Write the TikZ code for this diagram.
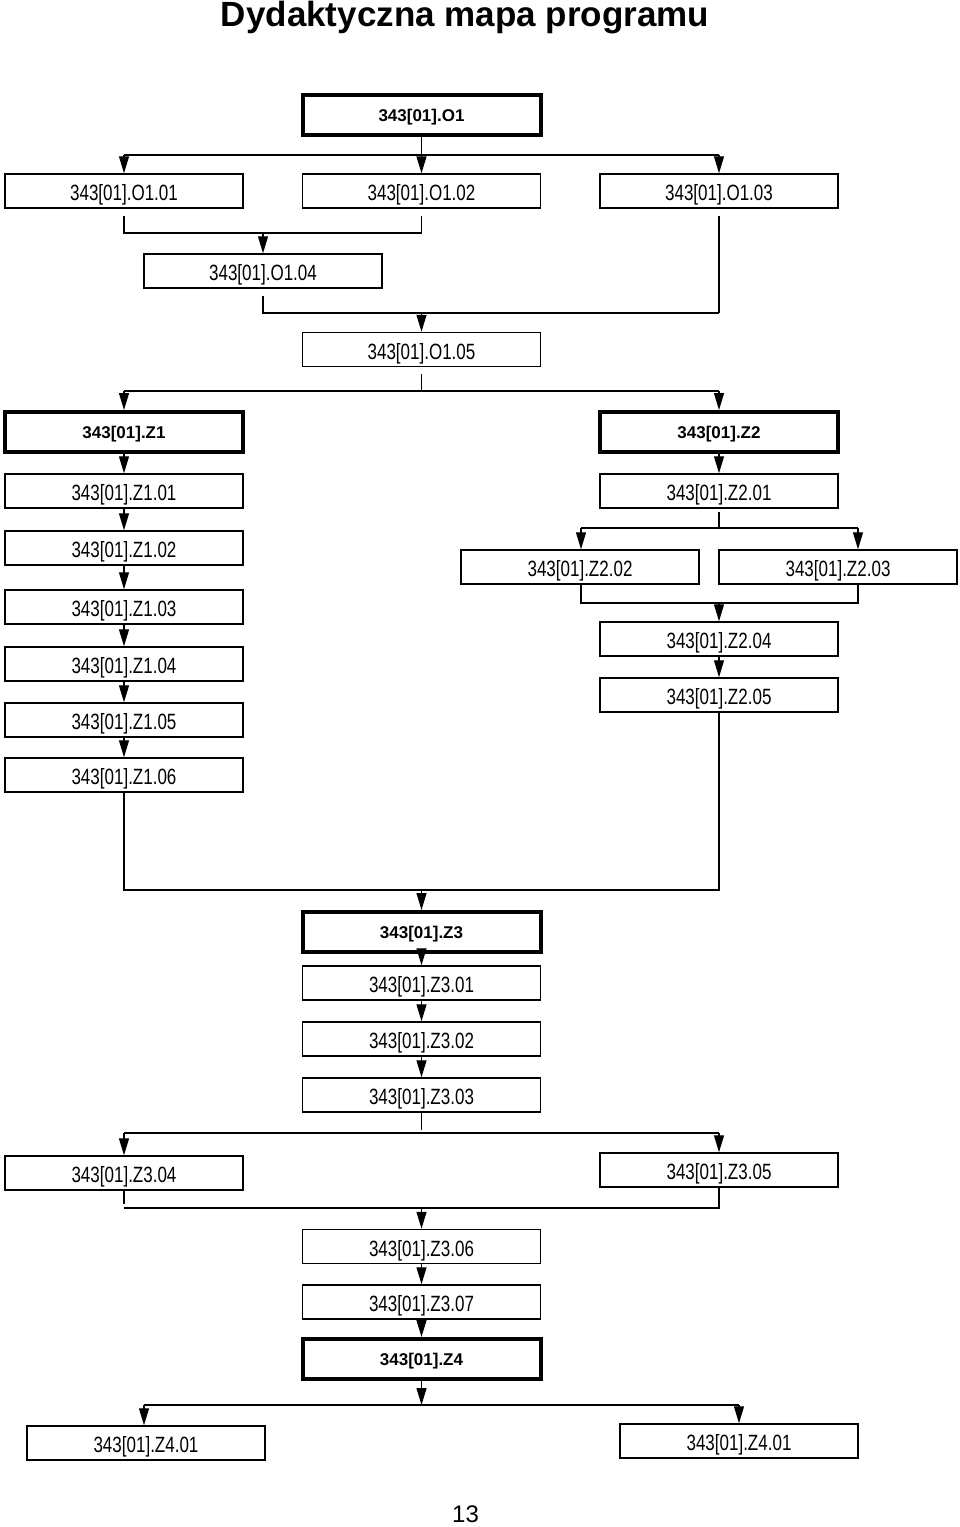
\documentclass[tikz,border=0pt]{standalone}
\usepackage{fontspec}
\setmainfont{Liberation Sans}
\usetikzlibrary{arrows.meta}
\newcommand{\tallt}[1]{\scalebox{1}[1.3]{#1}}
\begin{document}
\begin{tikzpicture}[x=1pt,y=-1pt,
  box/.style={draw, line width=1.5pt, minimum width=238pt, minimum height=34pt, inner sep=0pt,
    text height=19pt, text depth=0pt, font=\fontsize{17}{20}\selectfont},
  mainbox/.style={draw, line width=4pt, minimum width=238pt, minimum height=40pt, inner sep=0pt,
    text height=12pt, text depth=0pt, font=\fontsize{17}{20}\selectfont\bfseries},
  ln/.style={line width=1.3pt},
  arr/.style={line width=1.3pt, -{Triangle[length=17pt,width=10pt]}},
  gap/.style={shorten <=7pt}]
\useasboundingbox (0,0) rectangle (960,1527);
\node (title) at (465,18) {\fontsize{35}{38}\selectfont\bfseries Dydaktyczna mapa programu};
\node (page) at (465.5,1514.5) {\fontsize{24}{26}\selectfont 13};

% top section
\node[mainbox] (O1) at (421.5,115) {343[01].O1};
\node[box] (O101) at (124,191) {\tallt{343[01].O1.01}};
\node[box] (O102) at (421.5,191) {\tallt{343[01].O1.02}};
\node[box] (O103) at (719,191) {\tallt{343[01].O1.03}};
\node[box] (O104) at (263,271) {\tallt{343[01].O1.04}};
\node[box] (O105) at (421.5,349.5) {\tallt{343[01].O1.05}};

% Z1 column
\node[mainbox] (Z1) at (124,432) {343[01].Z1};
\node[box] (Z101) at (124,491) {\tallt{343[01].Z1.01}};
\node[box] (Z102) at (124,548) {\tallt{343[01].Z1.02}};
\node[box] (Z103) at (124,607) {\tallt{343[01].Z1.03}};
\node[box] (Z104) at (124,664) {\tallt{343[01].Z1.04}};
\node[box] (Z105) at (124,720) {\tallt{343[01].Z1.05}};
\node[box] (Z106) at (124,775) {\tallt{343[01].Z1.06}};

% Z2 column
\node[mainbox] (Z2) at (719,432) {343[01].Z2};
\node[box] (Z201) at (719,491) {\tallt{343[01].Z2.01}};
\node[box] (Z202) at (580,567) {\tallt{343[01].Z2.02}};
\node[box] (Z203) at (838,567) {\tallt{343[01].Z2.03}};
\node[box] (Z204) at (719,639) {\tallt{343[01].Z2.04}};
\node[box] (Z205) at (719,695) {\tallt{343[01].Z2.05}};

% Z3
\node[mainbox] (Z3) at (421.5,932) {343[01].Z3};
\node[box] (Z301) at (421.5,983) {\tallt{343[01].Z3.01}};
\node[box] (Z302) at (421.5,1039) {\tallt{343[01].Z3.02}};
\node[box] (Z303) at (421.5,1095) {\tallt{343[01].Z3.03}};
\node[box] (Z304) at (124,1173) {\tallt{343[01].Z3.04}};
\node[box] (Z305) at (719,1170) {\tallt{343[01].Z3.05}};
\node[box] (Z306) at (421.5,1246.5) {\tallt{343[01].Z3.06}};
\node[box] (Z307) at (421.5,1302) {\tallt{343[01].Z3.07}};
\node[mainbox] (Z4) at (421.5,1359) {343[01].Z4};
\node[box] (Z401a) at (146,1443) {\tallt{343[01].Z4.01}};
\node[box] (Z401b) at (739,1441) {\tallt{343[01].Z4.01}};

% bus coordinates
\coordinate (b1L) at (124,155);  \coordinate (b1R) at (719,155);
\coordinate (b2L) at (124,233);  \coordinate (b2R) at (421.5,233);
\coordinate (b3L) at (263,313);  \coordinate (b3R) at (719,313);
\coordinate (b4L) at (124,391);  \coordinate (b4R) at (719,391);
\coordinate (b5L) at (581,528);  \coordinate (b5R) at (858,528);
\coordinate (b6L) at (581,603);  \coordinate (b6R) at (858,603);
\coordinate (b7L) at (124,890);  \coordinate (b7R) at (719,890);
\coordinate (b8L) at (124,1133); \coordinate (b8R) at (719,1133);
\coordinate (b9L) at (124,1208); \coordinate (b9R) at (719,1208);
\coordinate (b10L) at (144,1405); \coordinate (b10R) at (739,1405);

% O1 fan-out
\draw[ln] (O1.south) -- (O1.south |- b1L);
\draw[ln] (b1L) -- (b1R);
\draw[arr] (b1L) -- (O101.north);
\draw[arr] (O1.south |- b1L) -- (O102.north);
\draw[arr] (b1R) -- (O103.north);
% O1.01 + O1.02 -> O1.04
\draw[ln,gap] (O101.south) -- (b2L) -- (b2R);
\draw[ln,gap] (O102.south) -- (b2R);
\draw[arr] (O104.north |- b2L) -- (O104.north);
% O1.04 + O1.03 -> O1.05
\draw[ln,gap] (O104.south) -- (b3L) -- (b3R);
\draw[ln,gap] (O103.south) -- (b3R);
\draw[arr] (O105.north |- b3L) -- (O105.north);
% O1.05 -> Z1, Z2
\draw[ln,gap] (O105.south) -- (O105.south |- b4L);
\draw[ln] (b4L) -- (b4R);
\draw[arr] (b4L) -- (Z1.north);
\draw[arr] (b4R) -- (Z2.north);
% Z1 chain
\draw[arr] (Z1.south) -- (Z101.north);
\draw[arr] (Z101.south) -- (Z102.north);
\draw[arr] (Z102.south) -- (Z103.north);
\draw[arr] (Z103.south) -- (Z104.north);
\draw[arr] (Z104.south) -- (Z105.north);
\draw[arr] (Z105.south) -- (Z106.north);
% Z2 chain
\draw[arr] (Z2.south) -- (Z201.north);
\draw[ln,shorten <=3pt] (Z201.south) -- (Z201.south |- b5L);
\draw[ln] (b5L) -- (b5R);
\draw[arr] (b5L) -- (b5L |- Z202.north);
\draw[arr] (b5R) -- (b5R |- Z203.north);
\draw[ln] (b6L |- Z202.south) -- (b6L) -- (b6R) -- (b6R |- Z203.south);
\draw[arr] (Z204.north |- b6L) -- (Z204.north);
\draw[arr] (Z204.south) -- (Z205.north);
% Z1.06 + Z2.05 -> Z3
\draw[ln] (Z106.south) -- (b7L) -- (b7R) -- (Z205.south);
\draw[arr] (Z3.north |- b7L) -- (Z3.north);
% Z3 chain
\draw[arr] (Z3.south) -- (Z301.north);
\draw[arr] (Z301.south) -- (Z302.north);
\draw[arr] (Z302.south) -- (Z303.north);
\draw[ln] (Z303.south) -- ([yshift=3pt]Z303.south |- b8L);
\draw[ln] (b8L) -- (b8R);
\draw[arr] (b8L) -- (Z304.north);
\draw[arr] (b8R) -- (Z305.north);
\draw[ln] ([yshift=4pt]b9L) -- (Z304.south);
\draw[ln] (b9L) -- (b9R) -- (Z305.south);
\draw[arr] (Z306.north |- b9L) -- (Z306.north);
\draw[arr] (Z306.south) -- (Z307.north);
\draw[arr] (Z307.south) -- (Z4.north);
% Z4 fan-out
\draw[arr] (Z4.south) -- (Z4.south |- b10L);
\draw[ln] (b10L) -- (b10R);
\draw[arr] (b10L) -- (b10L |- Z401a.north);
\draw[arr] (b10R) -- (b10R |- Z401b.north);
\end{tikzpicture}
\end{document}
